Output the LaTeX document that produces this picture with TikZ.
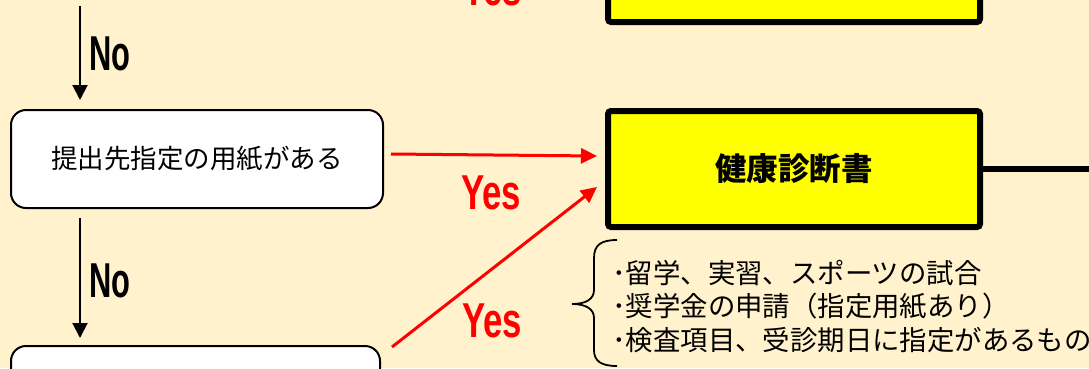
\documentclass[tikz,border=0pt]{standalone}
\usepackage{fontspec}
\setmainfont{Liberation Sans}
\newfontfamily\jp{Noto Sans CJK JP}
\usetikzlibrary{arrows.meta}
\definecolor{bgc}{HTML}{FFF2CC}
\definecolor{ylw}{HTML}{FFFF00}
\definecolor{rd}{HTML}{FF0000}
\begin{document}
\begin{tikzpicture}[x=1pt,y=1pt,
  decision/.style={draw=black, fill=white, rounded corners=15pt, line width=2pt, minimum width=372pt, minimum height=98pt, inner sep=0pt, outer sep=0pt, font=\jp\fontsize{26.5}{30}\selectfont},
  result/.style={draw=black, fill=ylw, rounded corners=3pt, line width=6pt, minimum width=372pt, minimum height=116pt, inner sep=0pt, outer sep=0pt, font=\jp\bfseries\fontsize{31.5}{36}\selectfont},
  noarr/.style={line width=2pt, -{Triangle[length=15pt,width=15pt]}},
  yesarr/.style={draw=rd, line width=3pt, -{Triangle[length=16pt,width=15pt]}},
  nolbl/.style={anchor=base west, inner sep=0pt, font=\bfseries\fontsize{49}{50}\selectfont},
  yeslbl/.style={nolbl, text=rd},
  note/.style={anchor=base west, inner sep=0pt, font=\jp\fontsize{27.4}{30}\selectfont},
  link/.style={line width=6pt}]
\useasboundingbox (0,0) rectangle (1089,-368);
\fill[bgc] (0,0) rectangle (1089,-368);
\begin{scope}
\clip (0,0) rectangle (1089,-368);
% nodes
\node[decision] (b1) at (197,-159) {提出先指定の用紙がある};
\node[decision, minimum width=369pt] (b2) at (195.5,-395) {};
\node[result] (top) at (794,36) {};
\node[result] (hc) at (794,-169) {健康診断書};
\coordinate (nx) at (80,0);
\coordinate (topsrc) at (80,-6);
\coordinate (rend) at (1095,-169);
% No arrows
\path ([yshift=10pt]b1.north) coordinate (b1n)
      ([yshift=-10pt]b1.south) coordinate (b1s)
      ([yshift=8pt]b2.north) coordinate (b2n);
\draw[noarr] (topsrc) -- (b1n -| nx);
\draw[noarr] (b1s -| nx) -- (b2n -| nx);
\node[nolbl] (no1) at (89,-70) {\scalebox{0.63}[1]{No}};
\node[nolbl] (no2) at (89,-297) {\scalebox{0.63}[1]{No}};
% Yes arrows
\draw[yesarr] ([xshift=8pt,yshift=5pt]b1.east) -- ([xshift=-11pt,yshift=13pt]hc.west);
\draw[yesarr] ([xshift=12pt,yshift=-1pt]b2.north east) -- ([xshift=-11pt,yshift=-18pt]hc.west);
\node[yeslbl] (yes0) at (462,-5) {\scalebox{0.71}[1]{Yes}};
\node[yeslbl] (yes1) at (461,-209) {\scalebox{0.71}[1]{Yes}};
\node[yeslbl] (yes2) at (462,-337) {\scalebox{0.71}[1]{Yes}};
% line to the right
\draw[link] (hc.east) -- (rend);
% brace
\draw[line width=1.8pt] (617,-240) .. controls (601,-240) and (594,-245) .. (594,-258) -- (594,-290)
  .. controls (594,-299) and (586,-304) .. (572,-304)
  .. controls (586,-304) and (594,-309) .. (594,-318) -- (594,-350)
  .. controls (594,-361) and (601,-366) .. (617,-366);
% notes
\node[note] (n1) at (612,-283) {･留学、実習、スポーツの試合};
\node[note] (n2) at (612,-316) {･奨学金の申請（指定用紙あり）};
\node[note] (n3) at (612,-350) {･検査項目、受診期日に指定があるもの};
\end{scope}
\end{tikzpicture}
\end{document}
